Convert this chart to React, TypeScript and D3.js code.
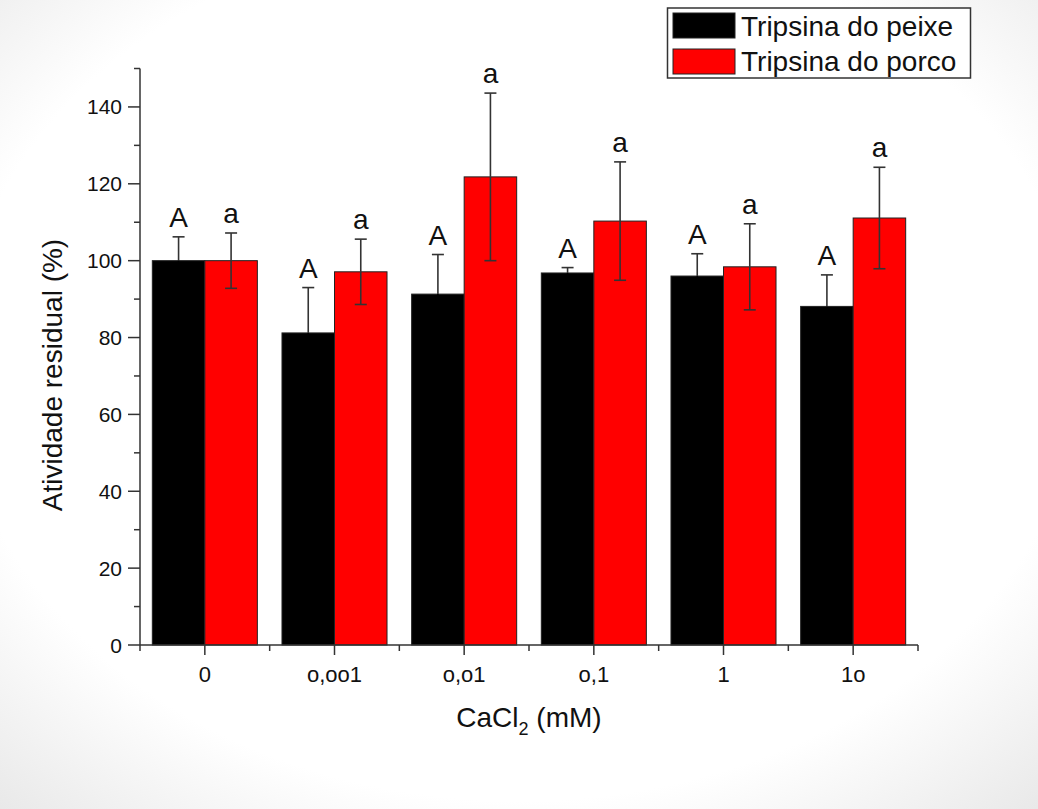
import React from "react";
import * as d3 from "d3";

const categories = ["0", "o,oo1", "o,o1", "o,1", "1", "1o"];
const seriesNames = ["Tripsina do peixe", "Tripsina do porco"];
const peixeValues = [100, 81.2, 91.3, 96.8, 96.0, 88.1];
const peixeErrors = [6.2, 11.8, 10.3, 1.4, 5.8, 8.2];
const porcoValues = [100, 97.1, 121.8, 110.3, 98.4, 111.1];
const porcoErrors = [7.2, 8.5, 21.8, 15.4, 11.2, 13.2];
const peixeLetters = ["A", "A", "A", "A", "A", "A"];
const porcoLetters = ["a", "a", "a", "a", "a", "a"];
const yTicks = [0, 20, 40, 60, 80, 100, 120, 140];
const yMinorTicks = [10, 30, 50, 70, 90, 110, 130, 150];
const colors = ["#000000", "#ff0000"];

const W = 1038;
const H = 809;
const left = 140;
const right = 918;
const top = 68.5;
const bottom = 645;
const FONT = "Liberation Sans, Arial, sans-serif";

export default function App() {
  const x = d3.scaleBand<string>().domain(categories).range([left, right]).padding(0);
  const y = d3.scaleLinear().domain([0, 150]).range([bottom, top]);
  const bw = x.bandwidth();
  const barW = bw * 0.405;
  const series = [
    { values: peixeValues, errors: peixeErrors, letters: peixeLetters, color: colors[0], offset: -1, whisker: "#000" },
    { values: porcoValues, errors: porcoErrors, letters: porcoLetters, color: colors[1], offset: 0, whisker: "#333" },
  ];
  const axisColor = "#333";
  return (
    <svg
      width={W}
      height={H}
      style={{ position: "absolute", left: 0, top: 0, display: "block" }}
      fontFamily={FONT}
    >
      <defs>
        <radialGradient id="bg" cx="50%" cy="45%" r="75%">
          <stop offset="0%" stopColor="#ffffff" />
          <stop offset="72%" stopColor="#ffffff" />
          <stop offset="100%" stopColor="#e8e8e8" />
        </radialGradient>
      </defs>
      <rect x={0} y={0} width={W} height={H} fill="url(#bg)" />

      {/* bars */}
      {series.map((s, si) =>
        categories.map((c, i) => {
          const cx = x(c)! + bw / 2;
          const x0 = cx + s.offset * barW;
          return (
            <rect
              key={`b${si}-${i}`}
              x={x0}
              y={y(s.values[i])}
              width={barW}
              height={y(0) - y(s.values[i])}
              fill={s.color}
              stroke="#222"
              strokeWidth={1}
            />
          );
        })
      )}

      {/* error bars and letters */}
      {series.map((s, si) =>
        categories.map((c, i) => {
          const cx = x(c)! + bw / 2 + s.offset * barW + barW / 2;
          const yt = y(s.values[i] + s.errors[i]);
          const yb = y(s.values[i] - s.errors[i]);
          const ym = y(s.values[i]);
          return (
            <g key={`e${si}-${i}`}>
              <line x1={cx} x2={cx} y1={yt} y2={ym} stroke="#333" strokeWidth={1.6} />
              <line x1={cx} x2={cx} y1={ym} y2={yb} stroke={s.whisker} strokeWidth={1.6} />
              <line x1={cx - 6} x2={cx + 6} y1={yt} y2={yt} stroke="#333" strokeWidth={1.6} />
              <line x1={cx - 6} x2={cx + 6} y1={yb} y2={yb} stroke={s.whisker} strokeWidth={1.6} />
              <text x={cx} y={yt - 10} textAnchor="middle" fontSize={28} fill="#111">
                {s.letters[i]}
              </text>
            </g>
          );
        })
      )}

      {/* y axis */}
      <line x1={left} x2={left} y1={top} y2={bottom} stroke={axisColor} strokeWidth={1.5} />
      {yTicks.map((t) => (
        <g key={`yt${t}`}>
          <line x1={left - 12} x2={left} y1={y(t)} y2={y(t)} stroke={axisColor} strokeWidth={1.5} />
          <text x={left - 18} y={y(t)} dy="0.36em" textAnchor="end" fontSize={21} fill="#111">
            {t}
          </text>
        </g>
      ))}
      {yMinorTicks.map((t) => (
        <line key={`ym${t}`} x1={left - 6} x2={left} y1={y(t)} y2={y(t)} stroke={axisColor} strokeWidth={1.5} />
      ))}
      <text
        transform={`translate(62,375) rotate(-90)`}
        textAnchor="middle"
        fontSize={28}
        fill="#111"
      >
        Atividade residual (%)
      </text>

      {/* x axis */}
      <line x1={left} x2={right} y1={bottom} y2={bottom} stroke={axisColor} strokeWidth={1.5} />
      {categories.map((c) => {
        const cx = x(c)! + bw / 2;
        return (
          <g key={`xt${c}`}>
            <line x1={cx} x2={cx} y1={bottom} y2={bottom + 10} stroke={axisColor} strokeWidth={1.5} />
            <text x={cx} y={682} textAnchor="middle" fontSize={22} fill="#111">
              {c}
            </text>
          </g>
        );
      })}
      {[...categories.map((c) => x(c)!), right].map((v, i) => (
        <line key={`xm${i}`} x1={v} x2={v} y1={bottom} y2={bottom + 6} stroke={axisColor} strokeWidth={1.5} />
      ))}
      <text x={529} y={727} textAnchor="middle" fontSize={28} fill="#111">
        CaCl<tspan fontSize={18} dy={8}>2</tspan>
        <tspan dy={-8}> (mM)</tspan>
      </text>

      {/* legend */}
      <rect x={667.5} y={8} width={303} height={70} fill="#fff" stroke="#333" strokeWidth={1.5} />
      {seriesNames.map((n, i) => (
        <g key={`lg${i}`}>
          <rect x={673} y={13 + i * 36} width={62} height={25} fill={colors[i]} stroke="#222" strokeWidth={1} />
          <text x={741} y={36 + i * 35} fontSize={28} fill="#111">
            {n}
          </text>
        </g>
      ))}
    </svg>
  );
}
